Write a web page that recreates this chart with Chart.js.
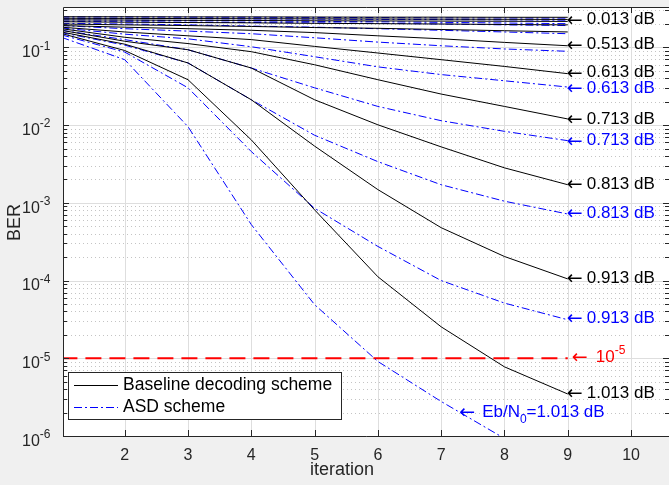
<!DOCTYPE html>
<html><head><meta charset="utf-8">
<script src="https://cdn.jsdelivr.net/npm/chart.js@4.4.0/dist/chart.umd.min.js"></script>
<style>html,body{margin:0;padding:0;background:#f0f0f0;}canvas{display:block;}</style>
</head><body>
<canvas id="c" width="669" height="485"></canvas>
<script>
// ---------------- data ----------------
const iterations = [1, 2, 3, 4, 5, 6, 7, 8, 9];
const xTickValues = [2, 3, 4, 5, 6, 7, 8, 9, 10];
const yDecadeExponents = [-1, -2, -3, -4, -5, -6];
const targetBER = 1e-5;

// Baseline decoding scheme (black solid), Eb/N0 = 0.013 ... 1.013 dB
const baseline_0013 = [0.248, 0.248, 0.247, 0.247, 0.246, 0.245, 0.245, 0.244, 0.244];
const baseline_0113 = [0.237, 0.236, 0.235, 0.234, 0.233, 0.232, 0.231, 0.230, 0.229];
const baseline_0213 = [0.226, 0.225, 0.223, 0.222, 0.220, 0.219, 0.218, 0.217, 0.216];
const baseline_0313 = [0.214, 0.211, 0.209, 0.207, 0.204, 0.202, 0.200, 0.197, 0.195];
const baseline_0413 = [0.200, 0.195, 0.191, 0.186, 0.180, 0.176, 0.170, 0.164, 0.158];
const baseline_0513 = [0.191, 0.182, 0.174, 0.166, 0.155, 0.141, 0.129, 0.116, 0.105];
const baseline_0613 = [0.182, 0.158, 0.141, 0.126, 0.103, 0.0847, 0.0695, 0.0569, 0.0459];
const baseline_0713 = [0.174, 0.135, 0.112, 0.0881, 0.0598, 0.0384, 0.0251, 0.0174, 0.0120];
const baseline_0813 = [0.166, 0.120, 0.0933, 0.0543, 0.0212, 0.0101, 0.00525, 0.00282, 0.00171];
const baseline_0913 = [0.158, 0.110, 0.0631, 0.0212, 0.00537, 0.00148, 0.000479, 0.000204, 0.000105];
const baseline_1013 = [0.151, 0.0912, 0.0384, 0.00646, 0.000813, 0.000112, 2.54e-5, 7.76e-6, 3.47e-6];

// ASD scheme (blue dash-dot)
const asd_0013 = [0.247, 0.246, 0.245, 0.244, 0.243, 0.242, 0.240, 0.239, 0.238];
const asd_0113 = [0.237, 0.235, 0.234, 0.232, 0.231, 0.229, 0.228, 0.226, 0.224];
const asd_0213 = [0.226, 0.224, 0.221, 0.219, 0.216, 0.214, 0.210, 0.206, 0.202];
const asd_0313 = [0.216, 0.214, 0.211, 0.209, 0.207, 0.204, 0.200, 0.195, 0.191];
const asd_0413 = [0.204, 0.200, 0.195, 0.188, 0.182, 0.174, 0.166, 0.158, 0.150];
const asd_0513 = [0.191, 0.174, 0.162, 0.150, 0.133, 0.117, 0.105, 0.0955, 0.0891];
const asd_0613 = [0.178, 0.148, 0.129, 0.102, 0.0759, 0.0562, 0.0447, 0.0372, 0.0309];
const asd_0713 = [0.166, 0.126, 0.0933, 0.0543, 0.0302, 0.0174, 0.0114, 0.00832, 0.00631];
const asd_0813 = [0.155, 0.107, 0.0631, 0.0212, 0.00741, 0.00339, 0.00171, 0.00105, 0.000718];
const asd_0913 = [0.145, 0.0871, 0.0302, 0.00457, 0.000851, 0.000275, 0.0001, 5.13e-5, 3.13e-5];
const asd_1013 = [0.135, 0.0695, 0.00955, 0.000525, 4.9e-5, 9.1e-6, 2.78e-6, 9.3e-7, 3.2e-7];

const baselineSeries = [baseline_0013, baseline_0113, baseline_0213, baseline_0313, baseline_0413,
  baseline_0513, baseline_0613, baseline_0713, baseline_0813, baseline_0913, baseline_1013];
const asdSeries = [asd_0013, asd_0113, asd_0213, asd_0313, asd_0413,
  asd_0513, asd_0613, asd_0713, asd_0813, asd_0913, asd_1013];

// annotation texts and anchors (data units)
const annTexts  = ['0.013 dB','0.513 dB','0.613 dB','0.613 dB','0.713 dB','0.713 dB','0.813 dB','0.813 dB','0.913 dB','0.913 dB','1.013 dB'];
const annScheme = ['base','base','base','asd','base','asd','base','asd','base','asd','base'];
const annY      = [0.221, 0.105, 0.0458, 0.0290, 0.0117, 0.00611, 0.00167, 0.000716, 1.05e-4, 3.15e-5, 3.47e-6];
const annX = 9;
const redAnnX = 9.08;
const ebAnnX = 7.3, ebAnnY = 1.95e-6;
const legendLabels = ['Baseline decoding scheme', 'ASD scheme'];

// ---------------- styles ----------------
const BLUE = '#0000ff', BLACK = '#000000', RED = '#ff0000', AXIS = '#262626';
const DASHDOT = [8, 3, 2, 3];
const FONT = '"Liberation Sans", Arial, Helvetica, sans-serif';
const ARROW_FONT = '"DejaVu Sans", sans-serif';

const datasets = [];
baselineSeries.forEach(s => datasets.push({
  data: iterations.map((x, i) => ({x, y: s[i]})),
  borderColor: BLACK, borderWidth: 1, pointRadius: 0, tension: 0, fill: false
}));
asdSeries.forEach(s => datasets.push({
  data: iterations.map((x, i) => ({x, y: s[i]})),
  borderColor: BLUE, borderWidth: 1, borderDash: DASHDOT, pointRadius: 0, tension: 0, fill: false
}));
datasets.push({
  data: [{x: iterations[0], y: targetBER}, {x: iterations[iterations.length - 1], y: targetBER}],
  borderColor: RED, borderWidth: 2, borderDash: [16, 8], pointRadius: 0, fill: false
});

function supText(ctx, xRight, yMid, base, sup, size, supSize, color) {
  ctx.font = size + 'px ' + FONT;
  const wb = ctx.measureText(base).width;
  ctx.font = supSize + 'px ' + FONT;
  const ws = ctx.measureText(sup).width;
  const x0 = xRight - wb - ws;
  ctx.fillStyle = color;
  ctx.textAlign = 'left'; ctx.textBaseline = 'middle';
  ctx.font = size + 'px ' + FONT;
  ctx.fillText(base, x0, yMid + 5.5);
  ctx.font = supSize + 'px ' + FONT;
  ctx.fillText(sup, x0 + wb, yMid - 1);
}

const painter = {
  id: 'painter',
  beforeDatasetsDraw(chart) {
    const {ctx, chartArea: a, scales: {x, y}} = chart;
    ctx.save();
    ctx.fillStyle = '#f0f0f0';
    ctx.fillRect(0, 0, chart.width, chart.height);
    ctx.fillStyle = '#ffffff';
    ctx.fillRect(a.left, a.top, a.right - a.left, a.bottom - a.top);
    // minor dotted grid
    ctx.strokeStyle = '#c4c4c4'; ctx.lineWidth = 1; ctx.setLineDash([1, 3]);
    for (const e of yDecadeExponents) {
      for (let k = 2; k <= 9; k++) {
        const v = k * Math.pow(10, e);
        if (v > y.max) continue;
        const py = Math.round(y.getPixelForValue(v)) + 0.5;
        ctx.beginPath(); ctx.moveTo(a.left, py); ctx.lineTo(a.right, py); ctx.stroke();
      }
    }
    ctx.setLineDash([]);
    ctx.strokeStyle = '#dedede';
    for (const t of xTickValues) {
      const px = Math.round(x.getPixelForValue(t)) + 0.5;
      ctx.beginPath(); ctx.moveTo(px, a.top); ctx.lineTo(px, a.bottom); ctx.stroke();
    }
    for (const e of yDecadeExponents) {
      const py = Math.round(y.getPixelForValue(Math.pow(10, e))) + 0.5;
      ctx.beginPath(); ctx.moveTo(a.left, py); ctx.lineTo(a.right, py); ctx.stroke();
    }
    ctx.restore();
  },
  afterDatasetsDraw(chart) {
    const {ctx, chartArea: a, scales: {x, y}} = chart;
    ctx.save();
    // axes box
    ctx.strokeStyle = AXIS; ctx.lineWidth = 1; ctx.setLineDash([]);
    ctx.beginPath();
    ctx.moveTo(a.left + 0.5, a.top + 0.5); ctx.lineTo(a.left + 0.5, a.bottom + 0.5);
    ctx.lineTo(a.right, a.bottom + 0.5);
    ctx.moveTo(a.left + 0.5, a.top + 0.5); ctx.lineTo(a.right, a.top + 0.5);
    ctx.stroke();
    // ticks
    ctx.beginPath();
    for (const t of xTickValues) {
      const px = Math.round(x.getPixelForValue(t)) + 0.5;
      ctx.moveTo(px, a.bottom); ctx.lineTo(px, a.bottom - 6);
      ctx.moveTo(px, a.top); ctx.lineTo(px, a.top + 6);
    }
    for (const e of yDecadeExponents) {
      for (let k = 1; k <= 9; k++) {
        const v = k * Math.pow(10, e);
        if (v > y.max) continue;
        const len = k === 1 ? 6 : 4;
        const py = Math.round(y.getPixelForValue(v)) + 0.5;
        ctx.moveTo(a.left, py); ctx.lineTo(a.left + len, py);
        ctx.moveTo(a.right, py); ctx.lineTo(a.right - len, py);
      }
    }
    ctx.stroke();
    // tick labels
    ctx.fillStyle = AXIS;
    ctx.font = '16px ' + FONT; ctx.textAlign = 'center'; ctx.textBaseline = 'middle';
    for (const t of xTickValues) ctx.fillText(String(t), x.getPixelForValue(t), a.bottom + 20);
    for (const e of yDecadeExponents) {
      supText(ctx, 50.5, y.getPixelForValue(Math.pow(10, e)), '10', String(e), 16, 12, AXIS);
    }
    // axis titles
    ctx.fillStyle = AXIS; ctx.font = '18px ' + FONT; ctx.textAlign = 'center'; ctx.textBaseline = 'middle';
    ctx.fillText('iteration', 342, 470);
    ctx.save(); ctx.translate(15.5, (a.top + a.bottom) / 2 + 1); ctx.rotate(-Math.PI / 2);
    ctx.fillText('BER', 0, 0); ctx.restore();

    // annotations
    ctx.textAlign = 'left'; ctx.textBaseline = 'middle';
    const arrowLabel = (px, py, color, draw) => {
      ctx.fillStyle = color;
      ctx.font = '19px ' + ARROW_FONT;
      ctx.fillText('\u2190', px - 1, py);
      draw(px + 19, py - 1);
    };
    annTexts.forEach((txt, i) => {
      const color = annScheme[i] === 'asd' ? BLUE : BLACK;
      arrowLabel(x.getPixelForValue(annX), y.getPixelForValue(annY[i]), color, (tx, ty) => {
        ctx.font = '17px ' + FONT; ctx.fillText(txt, tx, ty);
      });
    });
    // red 10^-5 label
    arrowLabel(x.getPixelForValue(redAnnX), y.getPixelForValue(targetBER), RED, (tx, ty) => {
      ctx.font = '17px ' + FONT; ctx.fillText('10', tx + 4, ty);
      const w = ctx.measureText('10').width;
      ctx.font = '12px ' + FONT; ctx.fillText('-5', tx + 4 + w, ty - 7);
    });
    // Eb/N0 label
    arrowLabel(x.getPixelForValue(ebAnnX), y.getPixelForValue(ebAnnY), BLUE, (tx, ty) => {
      ctx.font = '17px ' + FONT; ctx.fillText('Eb/N', tx + 3, ty);
      let w = ctx.measureText('Eb/N').width;
      ctx.font = '12px ' + FONT; ctx.fillText('0', tx + 3 + w, ty + 7);
      w += ctx.measureText('0').width;
      ctx.font = '17px ' + FONT; ctx.fillText('=1.013 dB', tx + 3 + w, ty);
    });

    // legend
    ctx.fillStyle = '#ffffff';
    ctx.fillRect(68.5, 372.5, 273, 47);
    ctx.strokeStyle = AXIS; ctx.lineWidth = 1;
    ctx.strokeRect(68.5, 372.5, 273, 47);
    const rows = [385.5, 407.5];
    ctx.lineWidth = 1;
    ctx.strokeStyle = BLACK; ctx.setLineDash([]);
    ctx.beginPath(); ctx.moveTo(74, rows[0]); ctx.lineTo(118, rows[0]); ctx.stroke();
    ctx.strokeStyle = BLUE; ctx.setLineDash(DASHDOT);
    ctx.beginPath(); ctx.moveTo(74, rows[1]); ctx.lineTo(118, rows[1]); ctx.stroke();
    ctx.setLineDash([]);
    ctx.fillStyle = BLACK; ctx.font = '17.5px ' + FONT;
    ctx.fillText(legendLabels[0], 123, rows[0]);
    ctx.fillText(legendLabels[1], 123, rows[1]);
    ctx.restore();
  }
};

new Chart(document.getElementById('c'), {
  type: 'line',
  data: {datasets},
  options: {
    responsive: false,
    animation: false,
    events: [],
    layout: {padding: {left: 63, top: 7, right: 0, bottom: 49}},
    plugins: {legend: {display: false}, tooltip: {enabled: false}},
    scales: {
      x: {type: 'linear', min: 1.025, max: 10.6, display: false},
      y: {type: 'logarithmic', min: 1e-6, max: 0.331, display: false}
    }
  },
  plugins: [painter]
});
</script>
</body></html>
